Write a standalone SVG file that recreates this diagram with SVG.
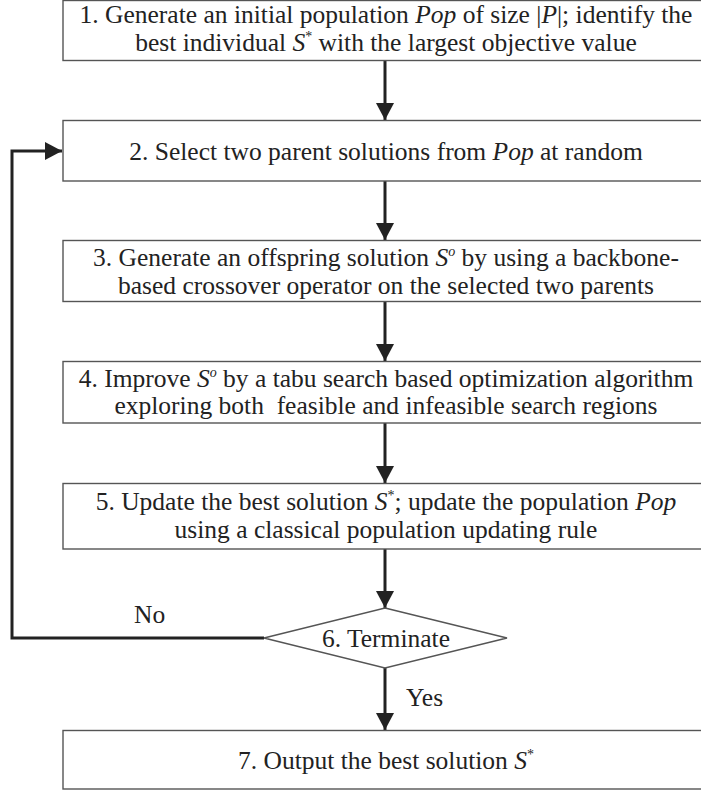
<svg xmlns="http://www.w3.org/2000/svg" width="701" height="791" viewBox="0 0 701 791" font-family="'Liberation Serif', 'Times New Roman', serif">
<defs>
<style>
.box{fill:#fff;stroke:#555;stroke-width:1.4}
text{font-family:'Liberation Serif','Times New Roman',serif;font-size:25.5px;fill:#222}
.t{text-anchor:middle}
.i{font-style:italic}
.sup{font-size:14px}
.conn{fill:none;stroke:#222;stroke-width:3}
</style>
<marker id="ah" markerUnits="userSpaceOnUse" markerWidth="18" markerHeight="18" viewBox="0 0 18 18" refX="17" refY="9" orient="auto">
<path d="M0,0 L17,9 L0,18 Z" fill="#222"/>
</marker>
</defs>
<g id="connectors">
<line class="conn" x1="385" y1="61" x2="385" y2="120" marker-end="url(#ah)"/>
<line class="conn" x1="385" y1="181" x2="385" y2="240" marker-end="url(#ah)"/>
<line class="conn" x1="385" y1="302" x2="385" y2="361" marker-end="url(#ah)"/>
<line class="conn" x1="385" y1="423" x2="385" y2="483" marker-end="url(#ah)"/>
<line class="conn" x1="385" y1="549" x2="385" y2="608" marker-end="url(#ah)"/>
<line class="conn" x1="385" y1="668" x2="385" y2="730" marker-end="url(#ah)"/>
<polyline class="conn" points="264,638 12,638 12,151 62,151" marker-end="url(#ah)"/>
<text x="134" y="623">No</text>
<text x="406" y="706">Yes</text>
</g>
<g id="n1">
<rect class="box" x="63" y="0.5" width="646" height="60"/>
<text class="t" x="386" y="23">1. Generate an initial population <tspan class="i">Pop</tspan> of size |<tspan class="i">P</tspan>|; identify the</text>
<text class="t" x="386" y="51">best individual <tspan class="i">S</tspan><tspan class="sup" dy="-10">*</tspan><tspan dy="10"> with the largest objective value</tspan></text>
</g>
<g id="n2">
<rect class="box" x="63" y="120.5" width="646" height="60.5"/>
<text class="t" x="386" y="160">2. Select two parent solutions from <tspan class="i">Pop</tspan> at random</text>
</g>
<g id="n3">
<rect class="box" x="63" y="240.5" width="646" height="61"/>
<text class="t" x="386" y="266">3. Generate an offspring solution <tspan class="i">S</tspan><tspan class="sup i" dy="-10">o</tspan><tspan dy="10"> by using a backbone-</tspan></text>
<text class="t" x="386" y="294">based crossover operator on the selected two parents</text>
</g>
<g id="n4">
<rect class="box" x="63" y="361.5" width="646" height="61.5"/>
<text class="t" x="386" y="387">4. Improve <tspan class="i">S</tspan><tspan class="sup i" dy="-10">o</tspan><tspan dy="10"> by a tabu search based optimization algorithm</tspan></text>
<text class="t" x="386" y="414" xml:space="preserve">exploring both  feasible and infeasible search regions</text>
</g>
<g id="n5">
<rect class="box" x="63" y="483.5" width="646" height="65.5"/>
<text class="t" x="386" y="510">5. Update the best solution <tspan class="i">S</tspan><tspan class="sup" dy="-10">*</tspan><tspan dy="10">; update the population </tspan><tspan class="i">Pop</tspan></text>
<text class="t" x="386" y="538">using a classical population updating rule</text>
</g>
<g id="n6">
<polygon class="box" points="385,608 507,638 385,668 264,638"/>
<text class="t" x="386" y="647">6. Terminate</text>
</g>
<g id="n7">
<rect class="box" x="63" y="730.5" width="646" height="58.5"/>
<text class="t" x="386" y="769">7. Output the best solution <tspan class="i">S</tspan><tspan class="sup" dy="-10">*</tspan></text>
</g>
</svg>
